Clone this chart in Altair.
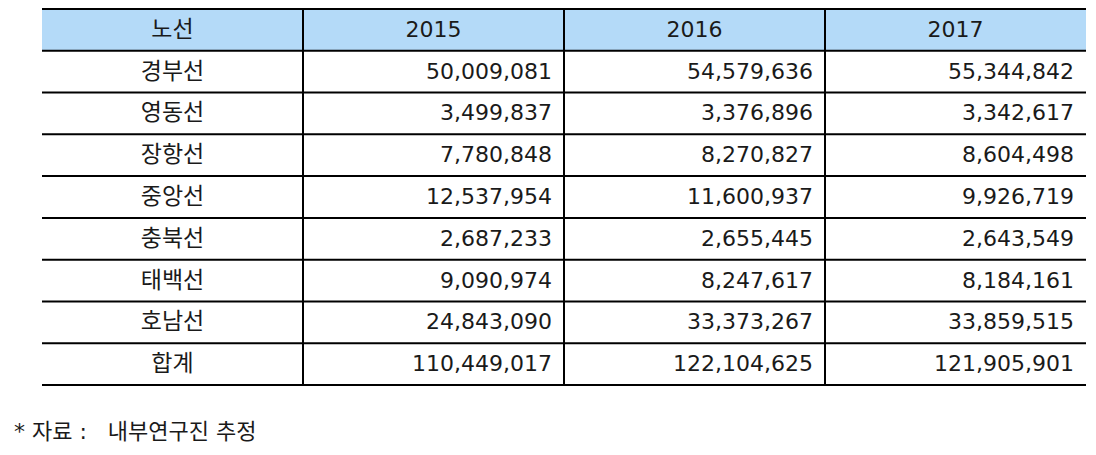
import altair as alt
import pandas as pd

# ---- data ----
header = ["노선", "2015", "2016", "2017"]
routes = ["경부선", "영동선", "장항선", "중앙선", "충북선", "태백선", "호남선", "합계"]
v2015 = [50009081, 3499837, 7780848, 12537954, 2687233, 9090974, 24843090, 110449017]
v2016 = [54579636, 3376896, 8270827, 11600937, 2655445, 8247617, 33373267, 122104625]
v2017 = [55344842, 3342617, 8604498, 9926719, 2643549, 8184161, 33859515, 121905901]
note = "* 자료 :\u00a0\u00a0 내부연구진 추정"

# ---- layout / style ----
FONT = "DejaVu Sans, Noto Sans CJK KR"
FS = 22
FS_KO = 23
HEAD_FILL = "#B4DAF8"
LINE = "#000000"
TXT = "#1a1a1a"

ncols = len(header)
nrows = len(routes) + 1

cells = []
for c, h in enumerate(header):
    cells.append({"r": 0, "c": c, "text": h, "kind": "label" if c == 0 else "year"})
for i, name in enumerate(routes):
    r = i + 1
    cells.append({"r": r, "c": 0, "text": name, "kind": "label"})
    for c, arr in enumerate([v2015, v2016, v2017], start=1):
        cells.append({"r": r, "c": c, "text": f"{arr[i]:,}", "kind": "num"})
df = pd.DataFrame(cells)
df["yc"] = df["r"] + 0.5
df["xc"] = df["c"] + 0.5
df["xr"] = df["c"] + 1

xs = alt.Scale(domain=[0, ncols], range=[34, 1078])
ys = alt.Scale(domain=[0, nrows], range=[1, 377])

head_df = pd.DataFrame({"x": [0], "x2": [ncols], "y": [0], "y2": [1]})
head = alt.Chart(head_df).mark_rect(color=HEAD_FILL).encode(
    x=alt.X("x:Q", scale=xs, axis=None),
    x2="x2:Q",
    y=alt.Y("y:Q", scale=ys, axis=None),
    y2="y2:Q",
)

hl_df = pd.DataFrame({"y": list(range(nrows + 1)), "x": 0, "x2": ncols})
hlines = alt.Chart(hl_df).mark_rule(color=LINE, strokeWidth=2).encode(
    x=alt.X("x:Q", scale=xs, axis=None),
    x2="x2:Q",
    y=alt.Y("y:Q", scale=ys, axis=None),
)

vl_df = pd.DataFrame({"x": list(range(1, ncols)), "y": 0, "y2": nrows})
vlines = alt.Chart(vl_df).mark_rule(color=LINE, strokeWidth=2).encode(
    x=alt.X("x:Q", scale=xs, axis=None),
    y=alt.Y("y:Q", scale=ys, axis=None),
    y2="y2:Q",
)

label_txt = alt.Chart(df).transform_filter(alt.datum.kind == "label").mark_text(
    font=FONT, fontSize=FS_KO, color=TXT, align="center", baseline="middle"
).encode(
    x=alt.X("xc:Q", scale=xs, axis=None),
    y=alt.Y("yc:Q", scale=ys, axis=None),
    text="text:N",
)

year_txt = alt.Chart(df).transform_filter(alt.datum.kind == "year").mark_text(
    font=FONT, fontSize=FS, color=TXT, align="center", baseline="middle"
).encode(
    x=alt.X("xc:Q", scale=xs, axis=None),
    y=alt.Y("yc:Q", scale=ys, axis=None),
    text="text:N",
)

num_txt = alt.Chart(df).transform_filter(alt.datum.kind == "num").mark_text(
    font=FONT, fontSize=FS, color=TXT, align="right", baseline="middle", dx=-12
).encode(
    x=alt.X("xr:Q", scale=xs, axis=None),
    y=alt.Y("yc:Q", scale=ys, axis=None),
    text="text:N",
)

chart = alt.layer(head, hlines, vlines, label_txt, year_txt, num_txt).properties(
    width=1080,
    height=384,
    autosize=alt.AutoSizeParams(type="none"),
    padding={"left": 0, "top": 0, "right": 0, "bottom": 55},
    title=alt.TitleParams(
        text=note,
        orient="bottom",
        anchor="start",
        frame="group",
        font=FONT,
        fontSize=22,
        fontWeight="normal",
        color=TXT,
        offset=30,
        dx=6,
    ),
).configure_view(stroke=None)

chart.save("out.html", embed_options={"renderer": "svg", "actions": False})
